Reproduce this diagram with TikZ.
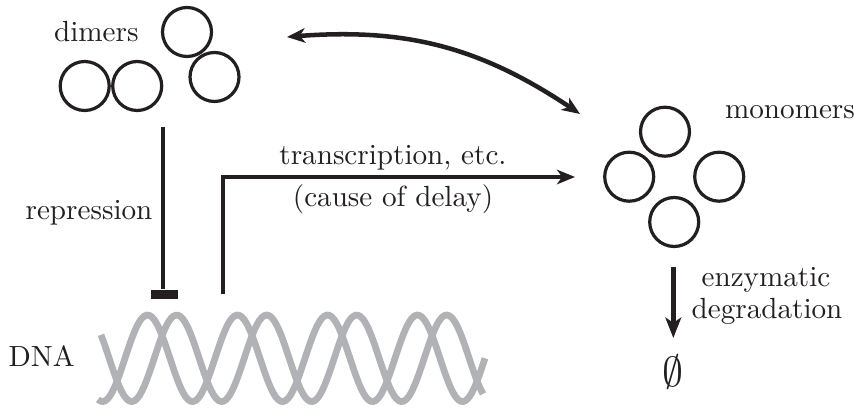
\documentclass[tikz,border=0pt]{standalone}
\usetikzlibrary{arrows.meta,bending}
\definecolor{ink}{HTML}{231F20}
\definecolor{strand}{HTML}{B1B2B6}
\tikzset{
  headtip/.tip={Stealth[length=6.2pt,width=5pt,inset=1.8pt]},
  bigtip/.tip={Stealth[length=7pt,width=5.4pt,inset=1.8pt]}}
\begin{document}
\begin{tikzpicture}[x=0.343pt,y=-0.343pt,
  every node/.style={text=ink},
  sub/.style={circle,draw=ink,line width=1.1pt,minimum size=16.8pt,inner sep=0pt},
  lbl/.style={anchor=base,inner sep=0pt},
  link/.style={draw=ink,line width=1.45pt},
  helix/.style={draw=strand,line width=2.3pt}]
\useasboundingbox (0,0) rectangle (855,408);

% protein subunits: dimers (left) and monomers (right)
\node[sub] (d1) at (84.7,86) {};
\node[sub] (d2) at (137.2,86) {};
\node[sub] (d3) at (187,32) {};
\node[sub] (d4) at (214.5,77) {};
\node[sub] (m1) at (665,131.7) {};
\node[sub] (m2) at (629.2,176.7) {};
\node[sub] (m3) at (719.2,176.7) {};
\node[sub] (m4) at (674.2,222) {};

% labels
\node[lbl] (dimers) at (96.3,41.7) {dimers};
\node[lbl] (monomers) at (790,118.3) {monomers};
\node[lbl] (transc) at (393,165) {transcription, etc.};
\node[lbl] (delay) at (393,206.7) {(cause of delay)};
\node[lbl] (repr) at (89,220) {repression};
\node[lbl] (dna) at (41.7,366.7) {DNA};
\node[lbl] (enz) at (766,286.7) {enzymatic};
\node[lbl] (degr) at (767,318.3) {degradation};
\node (empty) at (673,372) {\Large$\emptyset$};

% double helix
\draw[helix] plot[domain=98:485,samples=160,smooth] (\x,{358.3-43.3*cos(4*(\x-147.5))});
\draw[helix] plot[domain=101:483,samples=160,smooth] (\x,{358.3-43.3*cos(4*(\x-176.7))});

% repression: blunt end on the DNA
\coordinate (rtop) at (163.3,127);
\node[fill=ink,minimum width=9.26pt,minimum height=3.1pt,inner sep=0pt] (rbar) at (164.5,294.5) {};
\draw[link] (rtop) -- (rbar.north -| rtop);

% transcription / translation path
\coordinate (tstart) at (223,294);
\coordinate (tend) at (575,177);
\draw[link,-{headtip}] (tstart) |- (tend);

% dimerisation equilibrium
\coordinate (dimside) at (287,37);
\coordinate (monside) at (580,114);
\draw[link,line width=1.55pt,{headtip}-{headtip}] (dimside) to[bend left=20] (monside);

% degradation
\coordinate (dtop) at (673.3,267);
\coordinate (dtip) at (673.3,338);
\draw[link,line width=1.8pt,-{bigtip}] (dtop) -- (dtip);
\end{tikzpicture}
\end{document}
